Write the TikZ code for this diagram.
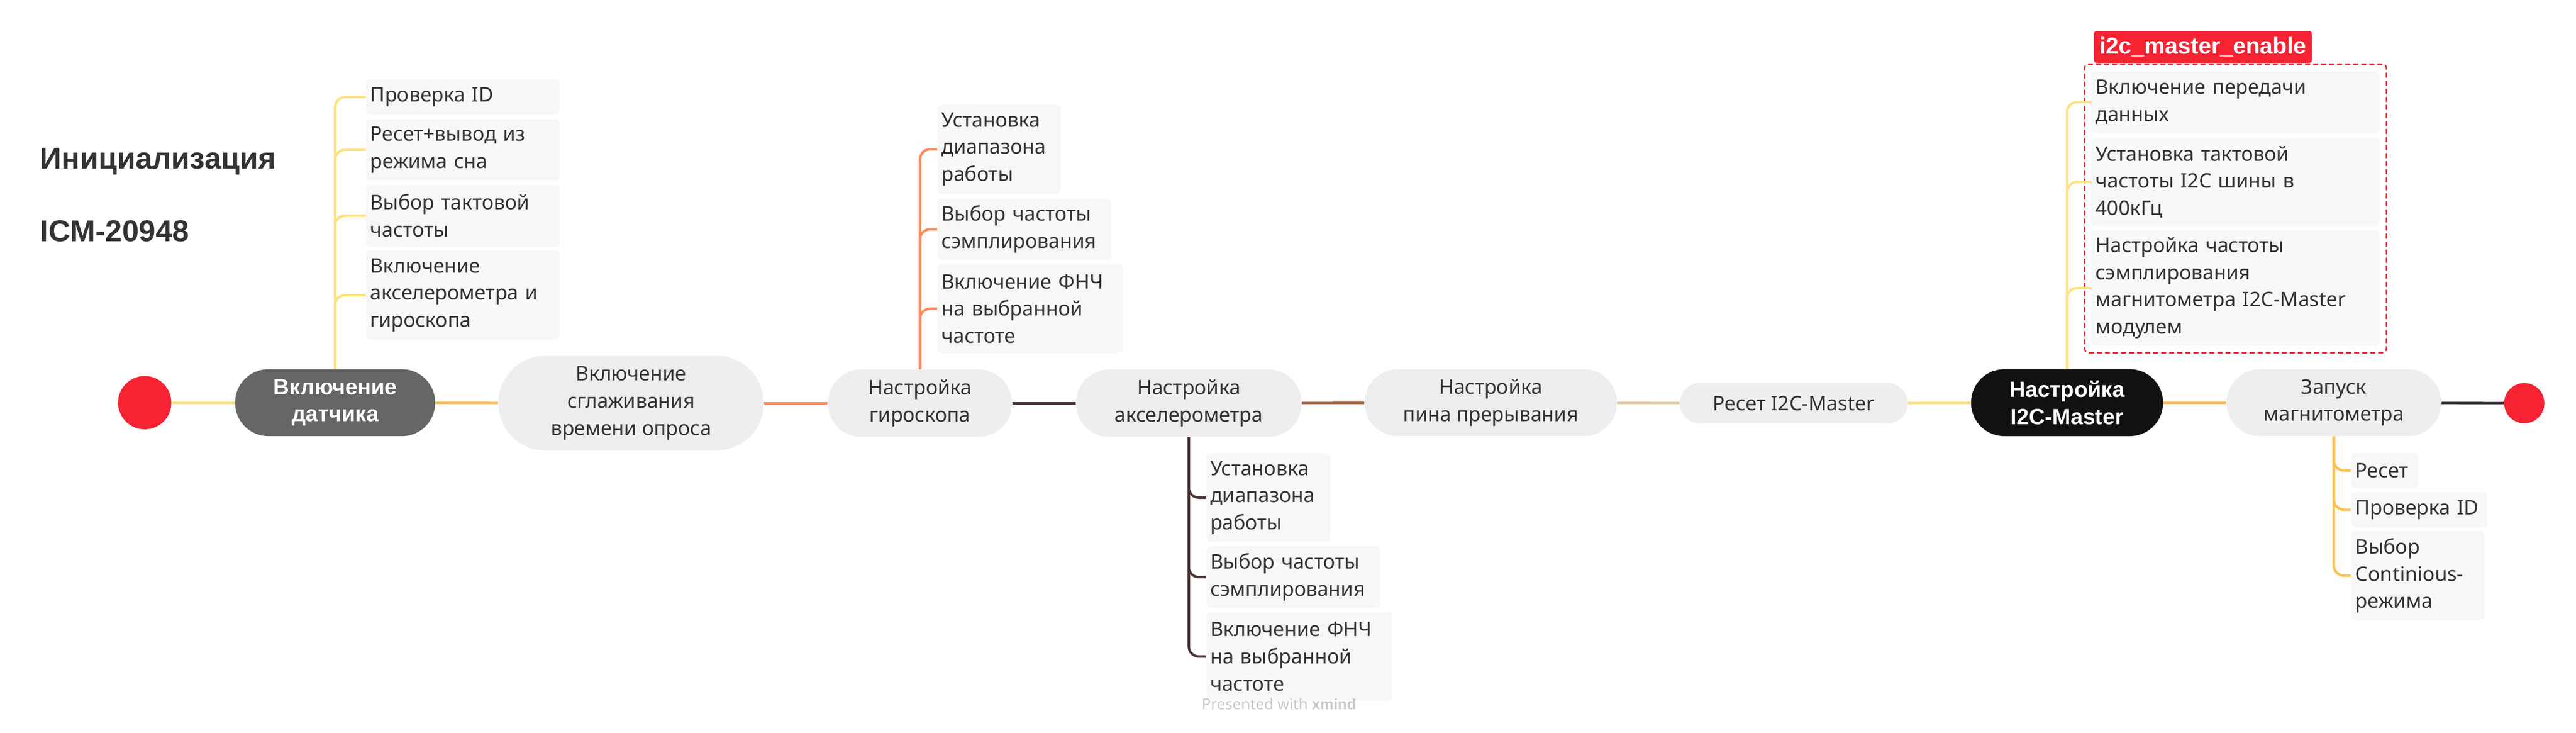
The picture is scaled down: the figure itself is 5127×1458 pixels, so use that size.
\documentclass[tikz,border=0pt]{standalone}
\usepackage{fontspec}
\setmainfont{Noto Sans}[AutoFakeBold=2.5]
\newfontfamily\heavyfont{Liberation Sans}
\usepackage{tikz}
\usetikzlibrary{fit,positioning}
\definecolor{dotred}{HTML}{F72232}
\definecolor{topicgray}{HTML}{EEEEEE}
\definecolor{topicdark}{HTML}{666666}
\definecolor{topicblack}{HTML}{111111}
\definecolor{subgray}{HTML}{F7F7F7}
\definecolor{ink}{HTML}{333333}
\definecolor{wmgray}{HTML}{C8C8C8}
\definecolor{lnyellow}{HTML}{FFE27A}
\definecolor{lnamber}{HTML}{FFC04D}
\definecolor{lnsalmon}{HTML}{FF8A5C}
\definecolor{lnbrown}{HTML}{4A3434}
\definecolor{lncopper}{HTML}{A86B42}
\definecolor{lntan}{HTML}{E8C9A0}
\definecolor{lngray}{HTML}{333333}
\tikzstyle{topic} = [rectangle, fill=topicgray, text=ink, align=center, inner sep=0pt, font=\fontsize{10}{13.5}\selectfont]
\tikzstyle{boldtopic} = [topic, text=white, font=\heavyfont\bfseries\fontsize{11}{13.5}\selectfont]
\tikzstyle{subtopic} = [rectangle, rounded corners=2pt, fill=subgray, text=ink, align=left, anchor=west, inner xsep=2pt, inner ysep=0pt, font=\fontsize{10}{13.5}\selectfont]
\tikzstyle{dot} = [circle, fill=dotred, inner sep=0pt]
\tikzstyle{link} = [line width=1.25pt]
\tikzstyle{branch} = [line width=1.2pt, rounded corners=5pt]

\begin{document}
\begin{tikzpicture}[x=0.25pt,y=-0.25pt]
    \useasboundingbox (0,0) rectangle (5127,1458);
    \fill[white] (0,0) rectangle (5127,1458);

    \begin{scope}[inner sep=0pt]
    \node[anchor=base west, text=ink, font=\heavyfont\bfseries\fontsize{15}{18}\selectfont] (title) at (79,336) {Инициализация};
    \node[anchor=base west, text=ink, font=\heavyfont\bfseries\fontsize{15}{18}\selectfont] (chip) at (79,480) {ICM-20948};

    % main line
    \node[dot, minimum size=26.5pt] (start) at (288,801) {};
    \node[boldtopic, fill=topicdark, minimum width=99.5pt, minimum height=33.25pt, rounded corners=16.5pt] (power) at (667,801) {Включение\\датчика};
    \node[topic, minimum width=132pt, minimum height=47pt, rounded corners=23.4pt] (smooth) at (1256,802) {Включение\\сглаживания\\времени опроса};
    \node[topic, minimum width=91.5pt, minimum height=33.5pt, rounded corners=16.6pt] (gyro) at (1831,802) {Настройка\\гироскопа};
    \node[topic, minimum width=112.25pt, minimum height=33.5pt, rounded corners=16.6pt] (accel) at (2366,802) {Настройка\\акселерометра};
    \node[topic, minimum width=125.5pt, minimum height=33.25pt, rounded corners=16.5pt] (pin) at (2967,801) {Настройка\\пина прерывания};
    \node[topic, minimum width=113.25pt, minimum height=20pt, rounded corners=9.9pt] (reset) at (3570,802) {Ресет I2C-Master};
    \node[boldtopic, fill=topicblack, minimum width=95.5pt, minimum height=33.25pt, rounded corners=16.5pt] (master) at (4114,801) {Настройка\\I2C-Master};
    \node[topic, minimum width=106.75pt, minimum height=33.25pt, rounded corners=16.5pt] (mag) at (4645,801) {Запуск\\магнитометра};
    \node[dot, minimum size=20pt] (stop) at (5024,802) {};

    \draw[link, lnyellow] (start) -- (power);
    \draw[link, lnamber] (power) -- (smooth);
    \draw[link, lnsalmon] (smooth) -- (gyro);
    \draw[link, lnbrown] (gyro) -- (accel);
    \draw[link, lncopper] (accel) -- (pin);
    \draw[link, lntan] (pin) -- (reset);
    \draw[link, lnyellow] (reset) -- (master);
    \draw[link, lnamber] (master) -- (mag);
    \draw[link, lngray] (mag) -- (stop);
    \end{scope}

    % sensor power-on
    \node[subtopic, text width=92.25pt, minimum height=17.25pt] (power1) at (728,193) {Проверка ID};
    \node[subtopic, text width=92.25pt, minimum height=30.5pt] (power2) at (728,298) {Ресет+вывод из\\режима сна};
    \node[subtopic, text width=92.25pt, minimum height=30.5pt] (power3) at (728,429) {Выбор тактовой\\частоты};
    \node[subtopic, text width=92.25pt, minimum height=44pt] (power4) at (728,587) {Включение\\акселерометра и\\гироскопа};
    \draw[branch, lnyellow] (power.north) |- (power1.west);
    \draw[branch, lnyellow] (power.north) |- (power2.west);
    \draw[branch, lnyellow] (power.north) |- (power3.west);
    \draw[branch, lnyellow] (power.north) |- (power4.west);

    % gyroscope
    \node[subtopic, text width=57.5pt, minimum height=44.25pt] (gyro1) at (1865,297) {Установка\\диапазона\\работы};
    \node[subtopic, text width=82.5pt, minimum height=30.75pt] (gyro2) at (1865,456) {Выбор частоты\\сэмплирования};
    \node[subtopic, text width=88.25pt, minimum height=44pt] (gyro3) at (1865,614) {Включение ФНЧ\\на выбранной\\частоте};
    \draw[branch, lnsalmon] (gyro.north) |- (gyro1.west);
    \draw[branch, lnsalmon] (gyro.north) |- (gyro2.west);
    \draw[branch, lnsalmon] (gyro.north) |- (gyro3.west);

    % accelerometer
    \node[subtopic, text width=57.75pt, minimum height=44pt] (accel1) at (2400,990) {Установка\\диапазона\\работы};
    \node[subtopic, text width=82.5pt, minimum height=30.5pt] (accel2) at (2400,1148) {Выбор частоты\\сэмплирования};
    \node[subtopic, text width=88.5pt, minimum height=44pt] (accel3) at (2400,1306) {Включение ФНЧ\\на выбранной\\частоте};
    \draw[branch, lnbrown] (accel.south) |- (accel1.west);
    \draw[branch, lnbrown] (accel.south) |- (accel2.west);
    \draw[branch, lnbrown] (accel.south) |- (accel3.west);

    % I2C master
    \node[subtopic, text width=139.25pt, minimum height=30.75pt] (master1) at (4162,203) {Включение передачи\\данных};
    \node[subtopic, text width=139.25pt, minimum height=43.75pt] (master2) at (4162,362) {Установка тактовой\\частоты I2C шины в\\400кГц};
    \node[subtopic, text width=139.25pt, minimum height=57.5pt] (master3) at (4162,573) {Настройка частоты\\сэмплирования\\магнитометра I2C-Master\\модулем};
    \node[draw=dotred, dashed, dash pattern=on 2.5pt off 1.5pt, line width=0.7pt, rounded corners=2pt, inner sep=3.25pt, fit=(master1)(master2)(master3)] (frame) {};
    \node[anchor=south west, fill=dotred, text=white, rounded corners=1.5pt, minimum width=108.5pt, minimum height=16pt, inner sep=0pt, font=\heavyfont\bfseries\fontsize{11.5}{13}\selectfont] (tag) at ([xshift=4.75pt]frame.north west) {i2c\_master\_enable};
    \draw[branch, lnyellow] (master.north) |- (master1.west);
    \draw[branch, lnyellow] (master.north) |- (master2.west);
    \draw[branch, lnyellow] (master.north) |- (master3.west);

    % magnetometer
    \node[subtopic, text width=29.25pt, minimum height=17.25pt] (mag1) at (4679,936) {Ресет};
    \node[subtopic, text width=63.75pt, minimum height=17.25pt] (mag2) at (4679,1014) {Проверка ID};
    \node[subtopic, text width=62.25pt, minimum height=44pt] (mag3) at (4679,1145) {Выбор\\Continious-\\режима};
    \draw[branch, lnamber] (mag.south) |- (mag1.west);
    \draw[branch, lnamber] (mag.south) |- (mag2.west);
    \draw[branch, lnamber] (mag.south) |- (mag3.west);

    \node[anchor=base west, inner sep=0pt, text=wmgray, font=\fontsize{7.5}{9}\selectfont] (credit) at (2391,1411) {Presented with {\heavyfont\bfseries xmind}};
\end{tikzpicture}
\end{document}
